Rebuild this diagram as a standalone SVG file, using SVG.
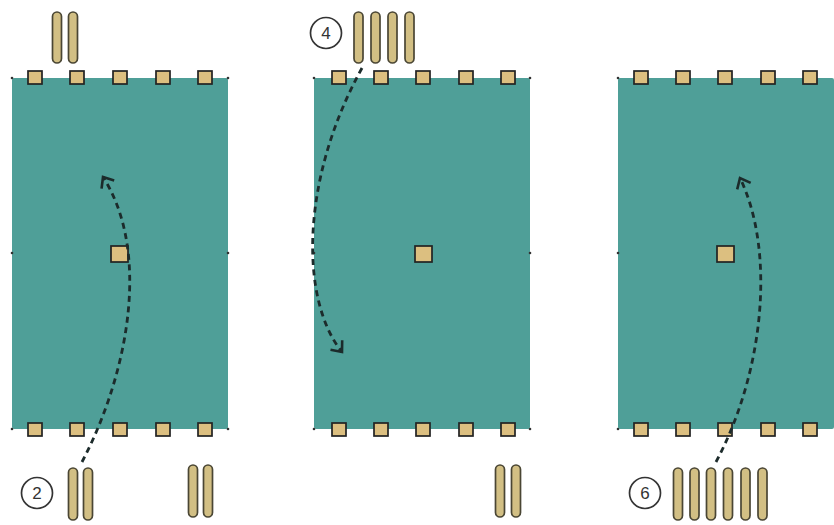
<svg xmlns="http://www.w3.org/2000/svg" width="834" height="525" viewBox="0 0 834 525">
<style>
.panel{fill:#4f9f98}
.sq{fill:#dcbf80;stroke:#222;stroke-width:1.7}
.pill{fill:#d2bf84;stroke:#4a4634;stroke-width:1.7}
.dot{fill:#333}
.num{fill:#fff;stroke:#333;stroke-width:1.7}
.numt{font-family:"Liberation Sans",Arial,sans-serif;font-size:17px;fill:#333;text-anchor:middle}
.arr{fill:none;stroke:#1c2b2b;stroke-width:2.8;stroke-dasharray:6 4.5}
</style>
<defs>
<marker id="chev" markerWidth="16" markerHeight="18" refX="12" refY="9" orient="auto" markerUnits="userSpaceOnUse">
<polyline points="3,1.5 12,9 3,16.5" fill="none" stroke="#1c2b2b" stroke-width="2.6"/>
</marker>
</defs>
<rect width="834" height="525" fill="#fff"/>

<g id="panel1">
<rect class="panel" x="12" y="78" width="216" height="351" rx="2"/>
<circle class="dot" cx="12" cy="78" r="1.3"/><circle class="dot" cx="228" cy="78" r="1.3"/>
<circle class="dot" cx="12" cy="253" r="1.3"/><circle class="dot" cx="228" cy="253" r="1.3"/>
<circle class="dot" cx="12" cy="429" r="1.3"/><circle class="dot" cx="228" cy="429" r="1.3"/>
<rect class="sq" x="28" y="71" width="14" height="13"/><rect class="sq" x="70" y="71" width="14" height="13"/><rect class="sq" x="113" y="71" width="14" height="13"/><rect class="sq" x="156" y="71" width="14" height="13"/><rect class="sq" x="198" y="71" width="14" height="13"/>
<rect class="sq" x="28" y="423" width="14" height="13"/><rect class="sq" x="70" y="423" width="14" height="13"/><rect class="sq" x="113" y="423" width="14" height="13"/><rect class="sq" x="156" y="423" width="14" height="13"/><rect class="sq" x="198" y="423" width="14" height="13"/>
<rect class="sq" x="111" y="246" width="17" height="16"/>
</g>

<g id="panel2">
<rect class="panel" x="314" y="78" width="216" height="351" rx="2"/>
<circle class="dot" cx="314" cy="78" r="1.3"/><circle class="dot" cx="530" cy="78" r="1.3"/>
<circle class="dot" cx="314" cy="253" r="1.3"/><circle class="dot" cx="530" cy="253" r="1.3"/>
<circle class="dot" cx="314" cy="429" r="1.3"/><circle class="dot" cx="530" cy="429" r="1.3"/>
<rect class="sq" x="332" y="71" width="14" height="13"/><rect class="sq" x="374" y="71" width="14" height="13"/><rect class="sq" x="416" y="71" width="14" height="13"/><rect class="sq" x="459" y="71" width="14" height="13"/><rect class="sq" x="501" y="71" width="14" height="13"/>
<rect class="sq" x="332" y="423" width="14" height="13"/><rect class="sq" x="374" y="423" width="14" height="13"/><rect class="sq" x="416" y="423" width="14" height="13"/><rect class="sq" x="459" y="423" width="14" height="13"/><rect class="sq" x="501" y="423" width="14" height="13"/>
<rect class="sq" x="415" y="246" width="17" height="16"/>
</g>

<g id="panel3">
<rect class="panel" x="618" y="78" width="216" height="351" rx="2"/>
<circle class="dot" cx="618" cy="78" r="1.3"/>
<circle class="dot" cx="618" cy="253" r="1.3"/>
<circle class="dot" cx="618" cy="429" r="1.3"/>
<rect class="sq" x="634" y="71" width="14" height="13"/><rect class="sq" x="676" y="71" width="14" height="13"/><rect class="sq" x="718" y="71" width="14" height="13"/><rect class="sq" x="761" y="71" width="14" height="13"/><rect class="sq" x="803" y="71" width="14" height="13"/>
<rect class="sq" x="634" y="423" width="14" height="13"/><rect class="sq" x="676" y="423" width="14" height="13"/><rect class="sq" x="718" y="423" width="14" height="13"/><rect class="sq" x="761" y="423" width="14" height="13"/><rect class="sq" x="803" y="423" width="14" height="13"/>
<rect class="sq" x="717" y="246" width="17" height="16"/>
</g>

<g id="pills-top1">
<rect class="pill" x="52.5" y="12" width="9" height="51" rx="4.5"/>
<rect class="pill" x="68.5" y="12" width="9" height="51" rx="4.5"/>
</g>
<g id="pills-top2">
<rect class="pill" x="354" y="12" width="9" height="51" rx="4.5"/>
<rect class="pill" x="371" y="12" width="9" height="51" rx="4.5"/>
<rect class="pill" x="388" y="12" width="9" height="51" rx="4.5"/>
<rect class="pill" x="405" y="12" width="9" height="51" rx="4.5"/>
</g>
<g id="pills-bot1a">
<rect class="pill" x="68.5" y="468" width="9" height="52" rx="4.5"/>
<rect class="pill" x="83.5" y="468" width="9" height="52" rx="4.5"/>
</g>
<g id="pills-bot1b">
<rect class="pill" x="188.5" y="465" width="9" height="52" rx="4.5"/>
<rect class="pill" x="203.5" y="465" width="9" height="52" rx="4.5"/>
</g>
<g id="pills-bot2">
<rect class="pill" x="495.5" y="465" width="9" height="52" rx="4.5"/>
<rect class="pill" x="511.5" y="465" width="9" height="52" rx="4.5"/>
</g>
<g id="pills-bot3">
<rect class="pill" x="673.5" y="468" width="9" height="52" rx="4.5"/>
<rect class="pill" x="690" y="468" width="9" height="52" rx="4.5"/>
<rect class="pill" x="706.5" y="468" width="9" height="52" rx="4.5"/>
<rect class="pill" x="723.5" y="468" width="9" height="52" rx="4.5"/>
<rect class="pill" x="741" y="468" width="9" height="52" rx="4.5"/>
<rect class="pill" x="758" y="468" width="9" height="52" rx="4.5"/>
</g>

<g id="label2"><circle class="num" cx="37" cy="493" r="15.5"/><text class="numt" x="37" y="499">2</text></g>
<g id="label4"><circle class="num" cx="326" cy="33" r="15.5"/><text class="numt" x="326" y="39">4</text></g>
<g id="label6"><circle class="num" cx="645" cy="493" r="15.5"/><text class="numt" x="645" y="499">6</text></g>

<g id="connectors">
<path class="arr" d="M82,462 C130,370 150,250 103,177" marker-end="url(#chev)"/>
<path class="arr" d="M362,68 C300,180 300,300 342,352" marker-end="url(#chev)"/>
<path class="arr" d="M716,462 C765,370 775,250 740,178" marker-end="url(#chev)"/>
</g>
</svg>
